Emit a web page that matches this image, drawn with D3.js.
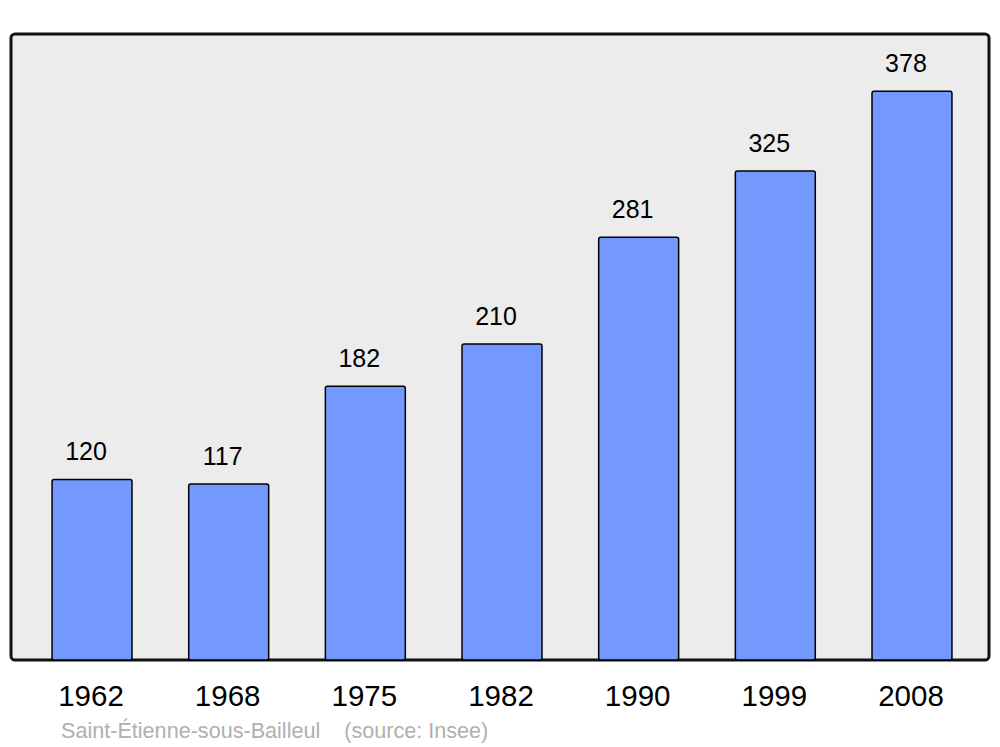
<!DOCTYPE html>
<html><head><meta charset="utf-8">
<script src="https://cdn.jsdelivr.net/npm/d3@7"></script>
<style>html,body{margin:0;padding:0;background:#fff;}svg{display:block;}</style>
</head><body>
<script>
const years = ["1962","1968","1975","1982","1990","1999","2008"];
const population = [120,117,182,210,281,325,378];
const footer = "Saint-Étienne-sous-Bailleul    (source: Insee)";

const W = 1000, H = 747;
const svg = d3.select("body").append("svg").attr("width", W).attr("height", H);

svg.append("rect").attr("x", 11).attr("y", 34).attr("width", 978).attr("height", 626)
  .attr("rx", 4).attr("fill", "#ececec").attr("stroke", "#111").attr("stroke-width", 3);

const x = d3.scaleBand().domain(years).range([23.7, 980.3]).paddingInner(0.415).paddingOuter(0.2075);
const y = d3.scaleLinear().domain([0, 416]).range([660, 34]);

const data = years.map((yr, i) => ({yr, v: population[i]}));

svg.selectAll("rect.bar").data(data).enter().append("rect").attr("class","bar")
  .attr("x", d => x(d.yr)).attr("y", d => y(d.v))
  .attr("width", x.bandwidth()).attr("height", d => y(0) - y(d.v))
  .attr("rx", 2).attr("fill", "#7399ff").attr("stroke", "#000").attr("stroke-width", 1.5);

svg.selectAll("text.val").data(data).enter().append("text").attr("class","val")
  .attr("x", d => x(d.yr) + x.bandwidth()/2 - 6).attr("y", d => y(d.v) - 19)
  .attr("text-anchor", "middle").attr("font-family", "Liberation Sans, Arial, sans-serif")
  .attr("font-size", 25).attr("fill", "#000").text(d => d.v);

const xAxis = d3.axisBottom(x).tickSize(0).tickPadding(0);
const gx = svg.append("g").attr("transform", "translate(0,660)").call(xAxis);
gx.select(".domain").remove();
gx.selectAll("text").attr("dy", null).attr("x", -1).attr("y", 45.5).attr("font-family", "Liberation Sans, Arial, sans-serif")
  .attr("font-size", 29.5).attr("fill", "#000");

svg.append("text").attr("x", 61).attr("y", 737.5).attr("font-family", "Liberation Sans, Arial, sans-serif")
  .attr("font-size", 21.6).attr("fill", "#b0b0b0").attr("xml:space","preserve").style("white-space","pre").text(footer);
</script>
</body></html>
